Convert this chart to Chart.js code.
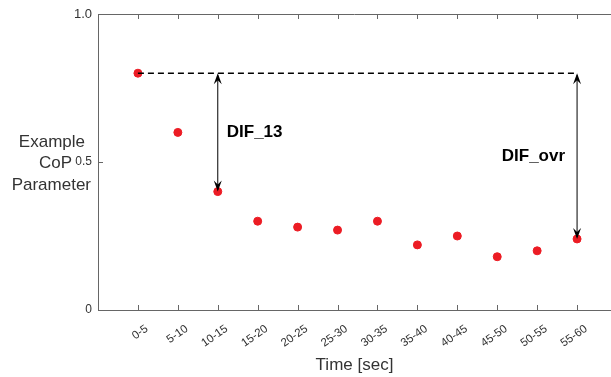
<!DOCTYPE html>
<html lang="en">
<head>
    <meta charset="UTF-8">
    <title>CoP Parameter</title>
    <script src="https://cdn.jsdelivr.net/npm/chart.js@4.4.0/dist/chart.umd.min.js"></script>
    <style>
        body { margin: 0; background: #fff; }
        #wrap { width: 611px; height: 377px; position: relative; }
    </style>
</head>
<body>
    <div id="wrap"><canvas id="chart"></canvas></div>
    <script>
        // Data
        const categories = ['0-5', '5-10', '10-15', '15-20', '20-25', '25-30', '30-35', '35-40', '40-45', '45-50', '50-55', '55-60'];
        const values = [0.80, 0.60, 0.40, 0.30, 0.28, 0.27, 0.30, 0.22, 0.25, 0.18, 0.20, 0.24];
        const yTicks = [0, 0.5, 1];
        const yTickLabels = ['0', '0.5', '1.0'];
        const yTitle = ['Example', 'CoP', 'Parameter'];
        const xTitle = 'Time [sec]';

        // Reference line and the two difference arrows
        const refValue = 0.80;
        const arrowCats = [3, 12];
        const arrowFrom = [0.80, 0.80];
        const arrowTo = [0.40, 0.24];
        const arrowLabels = ['DIF_13', 'DIF_ovr'];

        const axisColor = '#666';
        const textColor = '#333';

        const points = values.map((v, i) => ({ x: i + 1, y: v }));

        // Box, inward ticks, titles and arrows
        const decor = {
            id: 'decor',
            afterDraw(chart) {
                const ctx = chart.ctx;
                const a = chart.chartArea;
                const xs = chart.scales.x, ys = chart.scales.y;
                ctx.save();
                ctx.strokeStyle = axisColor;
                ctx.lineWidth = 1;
                ctx.beginPath();
                ctx.moveTo(a.left, a.top + 0.5);
                ctx.lineTo(a.right, a.top + 0.5);
                categories.forEach((c, i) => {
                    const px = Math.round(xs.getPixelForValue(i + 1)) + 0.5;
                    ctx.moveTo(px, a.bottom);
                    ctx.lineTo(px, a.bottom - 5);
                    ctx.moveTo(px, a.top);
                    ctx.lineTo(px, a.top + 5);
                });
                yTicks.forEach(v => {
                    const py = Math.round(ys.getPixelForValue(v)) + 0.5;
                    ctx.moveTo(a.left, py);
                    ctx.lineTo(a.left + 5, py);
                });
                ctx.stroke();

                // y title, right aligned next to the tick labels
                ctx.fillStyle = textColor;
                ctx.font = '17px "Liberation Sans", Arial, sans-serif';
                ctx.textAlign = 'right';
                ctx.textBaseline = 'middle';
                const mid = ys.getPixelForValue(0.5) + 1;
                ctx.fillText(yTitle[0], 85, mid - 21);
                ctx.fillText(yTitle[1], 72, mid);
                ctx.fillText(yTitle[2], 91, mid + 22);

                // arrows
                ctx.strokeStyle = '#000';
                ctx.fillStyle = '#000';
                arrowCats.forEach((c, i) => {
                    const px = xs.getPixelForValue(c);
                    const y1 = ys.getPixelForValue(arrowFrom[i]);
                    const y2 = ys.getPixelForValue(arrowTo[i]);
                    ctx.beginPath();
                    ctx.moveTo(px, y1 + 2);
                    ctx.lineTo(px, y2 - 2);
                    ctx.stroke();
                    [[y1, 1], [y2, -1]].forEach(([ty, d]) => {
                        ctx.beginPath();
                        ctx.moveTo(px, ty);
                        ctx.lineTo(px - 4, ty + d * 11);
                        ctx.lineTo(px, ty + d * 7);
                        ctx.lineTo(px + 4, ty + d * 11);
                        ctx.closePath();
                        ctx.fill();
                    });
                    ctx.font = 'bold 17px "Liberation Sans", Arial, sans-serif';
                    ctx.textBaseline = 'middle';
                    const ly = ys.getPixelForValue((arrowFrom[i] + arrowTo[i]) / 2);
                    if (i === 0) {
                        ctx.textAlign = 'left';
                        ctx.fillText(arrowLabels[i], px + 9, ly);
                    } else {
                        ctx.textAlign = 'right';
                        ctx.fillText(arrowLabels[i], px - 12, ly);
                    }
                });
                ctx.restore();
            }
        };

        new Chart(document.getElementById('chart'), {
            type: 'scatter',
            data: {
                datasets: [
                    {
                        type: 'line',
                        data: [{ x: 1, y: refValue }, { x: categories.length, y: refValue }],
                        borderColor: '#000',
                        borderWidth: 1.6,
                        borderDash: [6, 4],
                        pointRadius: 0,
                        fill: false
                    },
                    {
                        data: points,
                        backgroundColor: 'rgb(236, 28, 36)',
                        borderColor: 'rgb(236, 28, 36)',
                        pointRadius: 4,
                        pointHoverRadius: 4
                    }
                ]
            },
            options: {
                responsive: true,
                maintainAspectRatio: false,
                animation: false,
                layout: { autoPadding: false, padding: { top: 14, right: 0, left: 0, bottom: 0 } },
                plugins: { legend: { display: false }, tooltip: { enabled: false } },
                scales: {
                    x: {
                        type: 'linear',
                        min: 0,
                        max: 12.85,
                        afterBuildTicks: s => { s.ticks = categories.map((c, i) => ({ value: i + 1 })); },
                        afterFit: s => { s.height = 67; s.paddingRight = 0; },
                        grid: { display: false, drawTicks: false },
                        border: { display: true, color: axisColor },
                        ticks: {
                            autoSkip: false,
                            minRotation: 35,
                            maxRotation: 35,
                            padding: 12,
                            labelOffset: 9,
                            color: textColor,
                            font: { size: 11.5, family: '"Liberation Sans", Arial, sans-serif' },
                            callback: v => categories[v - 1]
                        },
                        title: {
                            display: true,
                            text: xTitle,
                            color: textColor,
                            padding: { top: 0, bottom: 1 },
                            font: { size: 17, family: '"Liberation Sans", Arial, sans-serif' }
                        }
                    },
                    y: {
                        min: 0,
                        max: 1,
                        afterBuildTicks: s => { s.ticks = yTicks.map(v => ({ value: v })); },
                        afterFit: s => { s.width = 98; },
                        grid: { display: false, drawTicks: false },
                        border: { display: true, color: axisColor },
                        ticks: {
                            padding: 6,
                            color: textColor,
                            font: c => ({ size: c.tick && c.tick.value === 1 ? 13 : 12, family: '"Liberation Sans", Arial, sans-serif' }),
                            callback: v => yTickLabels[yTicks.indexOf(v)]
                        }
                    }
                }
            },
            plugins: [decor]
        });
    </script>
</body>
</html>
